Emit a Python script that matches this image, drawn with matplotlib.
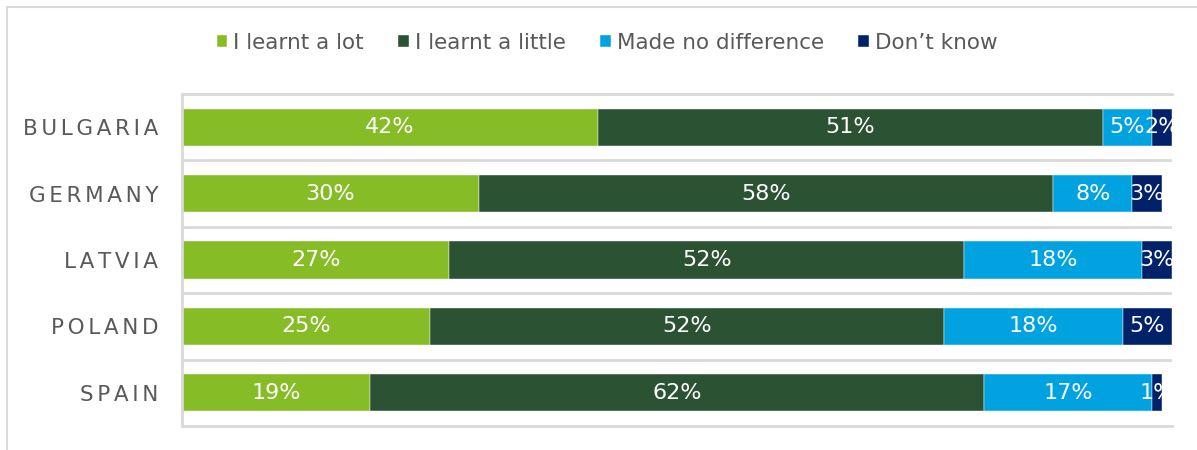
import matplotlib
matplotlib.use("Agg")
import matplotlib.pyplot as plt
from matplotlib.patches import Rectangle
import numpy as np

countries = ["BULGARIA", "GERMANY", "LATVIA", "POLAND", "SPAIN"]
series_names = ["I learnt a lot", "I learnt a little", "Made no difference", "Don\u2019t know"]
learnt_lot = [42, 30, 27, 25, 19]
learnt_little = [51, 58, 52, 52, 62]
no_difference = [5, 8, 18, 18, 17]
dont_know = [2, 3, 3, 5, 1]
colors = ["#86BC25", "#2C5234", "#00A3E0", "#012169"]

plt.rcParams["font.family"] = ["DejaVu Sans"]

fig = plt.figure(figsize=(11.97, 4.5), dpi=100)
W, H = 1197, 450

# light frame around the chart
fig.patches.append(Rectangle((7 / W, -0.1), 1.2, 1 - 7 / H + 0.1,
                             transform=fig.transFigure, fill=False,
                             edgecolor="#D9D9D9", linewidth=1.5))

ax = fig.add_axes([182 / W, 1 - 426 / H, (1172 - 182) / W, (426 - 94) / H])

y = np.arange(len(countries))
left = np.zeros(len(countries))
for name, vals, col in zip(series_names, [learnt_lot, learnt_little, no_difference, dont_know], colors):
    vals = np.array(vals, dtype=float)
    ax.barh(y, vals, left=left, height=0.56, color=col, label=name,
            edgecolor="white", linewidth=0.3)
    for yi, l, v in zip(y, left, vals):
        ax.text(l + v / 2, yi, f"{int(v)}%", ha="center", va="center",
                color="white", fontsize=16, clip_on=True)
    left += vals

ax.set_xlim(0, 100)
ax.set_ylim(len(countries) - 0.5, -0.5)
ax.set_xticks([])
ax.set_yticks(y)
# letter-spaced category names
ax.set_yticklabels(["\u2006".join(c) for c in countries], color="#595959", fontsize=15.5)
ax.tick_params(axis="y", length=0, pad=17)
ax.set_yticks(np.arange(len(countries) - 1) + 0.5, minor=True)
ax.tick_params(axis="y", which="minor", length=0)
ax.grid(axis="y", which="minor", color="#D9D9D9", linewidth=2)
ax.set_axisbelow(True)
for s in ["top", "bottom", "left"]:
    ax.spines[s].set_color("#D9D9D9")
    ax.spines[s].set_linewidth(2)
ax.spines["right"].set_visible(False)

fig.legend(loc="center", bbox_to_anchor=(607 / W, 1 - 43 / H), ncol=4,
           frameon=False, fontsize=15.5, handlelength=0.5, handleheight=0.5,
           handletextpad=0.27, columnspacing=1.6, labelcolor="#595959")

fig.savefig("out.png", dpi=100)
